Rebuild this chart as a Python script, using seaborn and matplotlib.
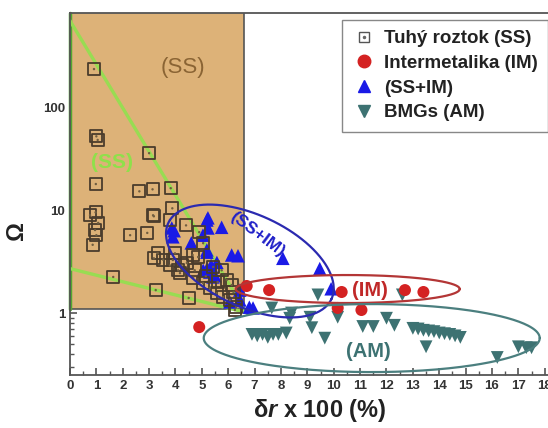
import numpy as np
import pandas as pd
import matplotlib
matplotlib.use("Agg")
import matplotlib.pyplot as plt
from matplotlib.patches import Rectangle
from matplotlib.lines import Line2D
import seaborn as sns

# ---- data (delta r x 100, Omega) ----
ss_x = [0.91, 1.0, 1.05, 3.0, 0.98, 2.63, 3.13, 3.82, 3.88, 0.97, 3.15, 0.76, 1.07, 0.95, 1.0,
        0.86, 2.28, 2.93, 3.18, 3.79, 3.33, 3.18, 3.53, 3.79, 3.98, 4.1, 4.4, 4.65, 4.43, 4.67,
        5.05, 5.3, 5.56, 5.8, 6.06, 6.3, 1.64, 3.25, 4.5, 4.9, 5.05, 4.86, 5.43, 5.75, 5.94,
        6.13, 6.2, 6.25, 3.9, 4.23, 4.17, 4.73, 5.15, 5.6]
ss_y = [234, 52, 48, 35.7, 17.9, 15.2, 15.9, 16.3, 10.4, 9.5, 8.9, 8.9, 7.5, 6.4, 5.7,
        4.6, 5.7, 6.0, 8.7, 8.0, 3.8, 3.4, 3.3, 2.9, 3.8, 2.6, 7.1, 3.66, 3.06, 2.2,
        1.95, 1.75, 1.56, 1.43, 1.34, 1.14, 2.24, 1.67, 1.40, 6.1, 4.77, 3.5, 2.8, 2.6, 2.09,
        1.87, 1.6, 1.07, 3.27, 2.9, 2.44, 2.6, 2.28, 2.0]

im_x = [4.9, 6.7, 7.55, 10.3, 10.15, 11.05, 12.7, 13.4]
im_y = [0.73, 1.83, 1.67, 1.6, 1.12, 1.07, 1.67, 1.6]

ssim_x = [3.86, 3.9, 3.95, 4.6, 5.04, 5.19, 5.23, 5.23, 5.75, 5.19, 5.19, 6.13, 6.37, 5.57,
          5.05, 5.2, 5.3, 5.42, 5.5, 5.35, 6.06, 6.44, 6.44, 6.8, 6.94, 8.07, 9.47, 9.9]
ssim_y = [6.7, 5.5, 6.3, 4.8, 5.7, 8.0, 8.4, 6.7, 6.8, 4.1, 3.9, 3.66, 3.6, 3.1,
          2.6, 2.7, 2.5, 2.24, 2.3, 2.9, 1.28, 1.34, 1.67, 1.14, 1.12, 3.4, 2.7, 1.72]

am_x = [6.9, 7.1, 7.3, 7.5, 7.7, 7.9, 8.2, 7.65, 8.4, 8.33, 9.1, 9.17, 9.66, 9.4, 10.15,
        11.1, 11.5, 12.0, 12.3, 12.6, 13.0, 13.2, 13.4, 13.6, 13.8, 14.0, 14.2, 14.4, 14.6,
        14.8, 13.5, 16.2, 17.0, 17.3, 17.5]
am_y = [0.62, 0.60, 0.62, 0.58, 0.62, 0.62, 0.64, 1.12, 1.0, 0.89, 0.91, 0.72, 0.57, 1.5, 0.91,
        0.74, 0.74, 0.89, 0.76, 1.5, 0.71, 0.70, 0.68, 0.67, 0.66, 0.64, 0.63, 0.62, 0.60,
        0.58, 0.47, 0.37, 0.47, 0.46, 0.46]

labels = ["Tuhý roztok (SS)", "Intermetalika (IM)", "(SS+IM)", "BMGs (AM)"]

# colours
c_box = "#ddb278"
c_sq = "#4a3c2c"
c_red = "#d42222"
c_blue = "#1a1ae6"
c_teal = "#3d7272"
c_green = "#98dc52"

sns.set_style("ticks")
plt.rcParams["font.family"] = ["Liberation Sans", "DejaVu Sans"]
plt.rcParams["font.weight"] = "bold"
plt.rcParams["mathtext.fontset"] = "custom"
plt.rcParams["mathtext.it"] = "Liberation Sans:italic:bold"
plt.rcParams["mathtext.rm"] = "Liberation Sans:bold"

fig = plt.figure(figsize=(5.48, 4.28), dpi=100)
ax = fig.add_axes([0.1277, 0.1238, 0.876, 0.8458])
ax.set_yscale("log")
ax.set_xlim(0, 18.2)
ax.set_ylim(0.25, 820)

# shaded SS region
ax.add_patch(Rectangle((0, 1.1), 6.6, 1000, facecolor=c_box, edgecolor="#555555",
                       lw=1.2, zorder=1))
ax.plot([0, 0], [1.1, 820], color="#52a830", lw=2.5, zorder=2, clip_on=False)
ax.plot([0, 6.7], [690, 1.0], color=c_green, lw=2.4, zorder=2)
ax.plot([0, 6.75], [2.7, 1.0], color=c_green, lw=2.4, zorder=2)

df_ss = pd.DataFrame({"x": ss_x, "y": ss_y})
df_im = pd.DataFrame({"x": im_x, "y": im_y})
df_ssim = pd.DataFrame({"x": ssim_x, "y": ssim_y})
df_am = pd.DataFrame({"x": am_x, "y": am_y})

sns.scatterplot(data=df_ssim, x="x", y="y", marker="^", s=95, color=c_blue,
                edgecolor="none", ax=ax, zorder=3)
sns.scatterplot(data=df_ss, x="x", y="y", marker="s", s=75, facecolor="none",
                edgecolor=c_sq, linewidth=1.3, ax=ax, zorder=3)
sns.scatterplot(data=df_ss, x="x", y="y", marker="o", s=3, color="#6f5d40",
                edgecolor="none", ax=ax, zorder=3)
sns.scatterplot(data=df_am, x="x", y="y", marker="v", s=85, color=c_teal,
                edgecolor="none", ax=ax, zorder=3)
sns.scatterplot(data=df_im, x="x", y="y", marker="o", s=75, color=c_red,
                edgecolor="none", ax=ax, zorder=3)


def ellipse(cx, cy, a, b, ang):
    # ellipse drawn in screen pixels around a data-space centre
    x0, y0 = ax.transData.transform((cx, cy))
    t = np.linspace(0, 2 * np.pi, 300)
    th = np.deg2rad(ang)
    ex, ey = a * np.cos(t), b * np.sin(t)
    pts = np.column_stack([x0 + ex * np.cos(th) - ey * np.sin(th),
                           y0 + ex * np.sin(th) + ey * np.cos(th)])
    d = ax.transData.inverted().transform(pts)
    return d[:, 0], d[:, 1]


ex, ey = ellipse(6.82, 3.2, 90, 46, -25)
ax.plot(ex, ey, color="#2b2ab0", lw=1.6, zorder=4)
ex, ey = ellipse(10.53, 1.71, 112, 14, 0)
ax.plot(ex, ey, color="#b33636", lw=1.6, zorder=4)
ex, ey = ellipse(11.44, 0.571, 168, 34, 0)
ax.plot(ex, ey, color="#4b7f7f", lw=1.6, zorder=4)

ax.text(4.3, 240, "(SS)", color="#8a6434", fontsize=16, fontweight="normal",
        ha="center", va="center", zorder=5)
ax.text(1.6, 29, "(SS)", color="#8fe04a", fontsize=15, ha="center", va="center", zorder=5)
ax.text(7.1, 5.8, "(SS+IM)", color="#2020c8", fontsize=12.5, rotation=-37,
        ha="center", va="center", zorder=5)
ax.text(11.36, 1.67, "(IM)", color="#c02828", fontsize=14.5, ha="center", va="center", zorder=5)
ax.text(11.3, 0.42, "(AM)", color=c_teal, fontsize=14.5, ha="center", va="center", zorder=5)

# axes styling
for side in ["top", "left", "bottom", "right"]:
    ax.spines[side].set_color("#555555")
    ax.spines[side].set_linewidth(1.3)
ax.set_xticks(range(0, 19))
ax.set_xticks(np.arange(0.5, 18.5, 1.0), minor=True)
ax.set_yticks([1, 10, 100])
ax.set_yticklabels(["1", "10", "100"])
ax.tick_params(axis="both", which="major", direction="in", length=5, width=1.2,
               labelsize=9.5, labelcolor="#333333", color="#555555")
ax.tick_params(axis="both", which="minor", direction="in", length=3, width=1.0,
               color="#555555")
ax.tick_params(axis="y", which="both", right=False)
ax.tick_params(axis="x", which="both", top=False)

ax.set_xlabel(r"δ$\it{r}$ x 100 (%)", fontsize=17, fontweight="bold", color="#222222")
ax.xaxis.set_label_coords(0.52, -0.062)
ax.set_ylabel("Ω", fontsize=17, fontweight="bold", color="#222222")
ax.yaxis.set_label_coords(-0.088, 0.40)

h_ss = (Line2D([], [], marker="s", ls="none", markersize=7, markerfacecolor="none",
               markeredgecolor="#555555", markeredgewidth=1.0),
        Line2D([], [], marker="o", ls="none", markersize=1.5, color="#666666"))
h_im = Line2D([], [], marker="o", ls="none", markersize=9, color=c_red)
h_ssim = Line2D([], [], marker="^", ls="none", markersize=9, color=c_blue)
h_am = Line2D([], [], marker="v", ls="none", markersize=9, color=c_teal)
leg = ax.legend([h_ss, h_im, h_ssim, h_am], labels, loc="upper left",
                bbox_to_anchor=(0.567, 0.981), borderaxespad=0, fontsize=13.5,
                frameon=True, fancybox=False, edgecolor="#888888", framealpha=1,
                labelspacing=0.4, handletextpad=0.5, borderpad=0.55, handlelength=1.2)
leg.get_frame().set_linewidth(1.0)
for t in leg.get_texts():
    t.set_color("#222222")

fig.savefig("out.png", dpi=100)
